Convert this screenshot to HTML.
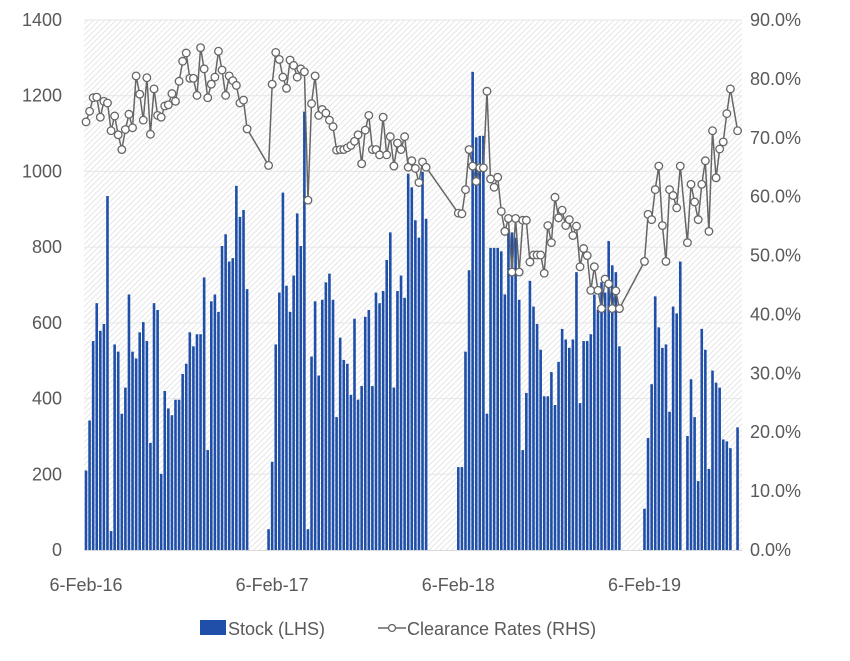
<!DOCTYPE html>
<html><head><meta charset="utf-8"><style>
body{margin:0;background:#fff;}
svg text{font-family:"Liberation Sans",sans-serif;fill:#595959;}
</style></head><body>
<svg id="chart" width="850" height="656" viewBox="0 0 850 656" xmlns="http://www.w3.org/2000/svg">
<defs>
<pattern id="hatch" patternUnits="userSpaceOnUse" width="4" height="4" patternTransform="rotate(45)">
<rect width="4" height="4" fill="#ffffff"/><line x1="0" y1="0" x2="0" y2="4" stroke="#d9d9d9" stroke-width="1.3"/>
</pattern>
</defs>
<rect x="84" y="20" width="658" height="530" fill="url(#hatch)"/>
<g id="grid"></g>
<g id="bars"></g>
<g id="line"></g>
<g id="axes"></g>
<g>
<rect x="200" y="620" width="26" height="15" fill="#1f4fa8"/>
<text x="228" y="635" font-size="18">Stock (LHS)</text>
<line x="380" x1="378" y1="628" x2="406" y2="628" stroke="#666" stroke-width="1.5"/>
<circle cx="392" cy="628" r="3.5" fill="#fff" stroke="#666" stroke-width="1.3"/>
<text x="407" y="635" font-size="18">Clearance Rates (RHS)</text>
</g>
</svg>
<script>
const stock = [210,342,552,652,579,597,935,50,543,524,360,429,675,524,506,575,602,552,283,652,634,201,420,374,356,397,397,465,492,575,538,570,570,720,264,657,675,629,803,834,762,771,962,880,898,689,
null,null,null,null,null,
55,233,543,680,944,698,629,725,889,803,1158,55,511,657,461,661,707,730,661,351,561,502,492,410,611,397,433,616,634,433,680,652,684,766,839,429,684,725,666,994,958,871,825,999,875,
null,null,null,null,null,null,null,null,
219,219,524,739,1263,1090,1094,1094,360,798,798,798,789,675,844,839,825,661,264,415,711,643,597,529,406,406,470,383,497,584,556,534,556,734,388,552,552,570,675,634,707,680,816,752,734,538,
null,null,null,null,null,null,
109,296,438,670,588,534,543,365,643,625,762,null,301,451,351,182,584,529,214,474,442,429,292,287,269,null,324];
const clearance = [72.7,74.5,76.8,76.9,73.5,76.2,75.9,71.2,73.7,70.5,68.0,71.4,74.0,71.7,80.5,77.4,73.0,80.2,70.6,78.3,73.8,73.5,75.4,75.6,77.5,76.2,79.6,83.0,84.4,80.1,80.1,77.2,85.3,81.7,76.8,79.1,80.3,84.7,81.5,77.2,80.5,79.7,78.9,75.9,76.4,71.5,
null,null,null,null,null,
65.3,79.1,84.5,83.3,80.3,78.4,83.2,82.3,80.3,81.7,81.2,59.4,75.8,80.5,73.8,74.8,74.2,73.0,71.9,67.9,68.0,68.0,68.3,68.7,69.4,70.5,65.6,71.3,73.8,68.0,68.0,67.1,73.5,67.1,70.2,65.2,69.1,68.0,70.2,65.0,66.1,64.8,62.4,65.9,65.0,
null,null,null,null,null,null,null,null,
57.2,57.1,61.2,68.0,65.2,62.6,64.9,64.9,77.9,63.0,61.6,63.3,57.5,54.1,56.3,47.2,56.3,47.2,56.0,56.0,48.9,50.1,50.1,50.1,47.0,55.1,52.2,59.9,56.4,57.7,55.1,56.1,53.4,55.0,48.1,51.2,50.0,44.1,48.1,44.1,41.0,46.0,45.2,41.0,44.0,41.0,
null,null,null,null,null,null,
49.0,57.0,56.1,61.2,65.2,55.1,49.0,61.2,60.2,58.1,65.2,null,52.2,62.1,59.1,56.1,62.1,66.1,54.1,71.2,63.2,68.1,69.3,74.1,78.3,null,71.2];
const leftTicks = [0,200,400,600,800,1000,1200,1400];
const rightTicks = [0,10,20,30,40,50,60,70,80,90];
const xLabels = ["6-Feb-16","6-Feb-17","6-Feb-18","6-Feb-19"];
const xLabelWeeks = [0,52,104,156];

const NS="http://www.w3.org/2000/svg";
const X0=86, STEP=3.58, YB=550, YT=20;
const xs=i=>X0+STEP*i;
const yL=v=>YB-(v/1400)*(YB-YT);
const yR=v=>YB-(v/90)*(YB-YT);
function mk(tag,attrs,parent){const e=document.createElementNS(NS,tag);for(const k in attrs)e.setAttribute(k,attrs[k]);parent.appendChild(e);return e;}
const grid=document.getElementById('grid'),bars=document.getElementById('bars'),line=document.getElementById('line'),axes=document.getElementById('axes');
leftTicks.forEach(t=>{
  if(t>0){const g=mk('line',{x1:84,x2:742,y1:yL(t),y2:yL(t),stroke:'#e6e6e6','stroke-width':1},grid);
  
  }
  const tx=mk('text',{x:62,y:yL(t)+6,'text-anchor':'end','font-size':18},axes);tx.textContent=t;
  
  
});
rightTicks.forEach(t=>{
  const tx=mk('text',{x:750,y:yR(t)+6,'font-size':18},axes);tx.textContent=t.toFixed(1)+'%';
  
  
});
xLabels.forEach((l,k)=>{
  const tx=mk('text',{x:xs(xLabelWeeks[k]),y:591,'text-anchor':'middle','font-size':18},axes);tx.textContent=l;
  
  
});
stock.forEach((v,i)=>{
  if(v==null)return;
  const r=mk('rect',{x:xs(i)-1.3,y:yL(v),width:2.6,height:YB-yL(v),fill:'#1f4fa8'},bars);
  
  
});
let d='';clearance.forEach((v,i)=>{if(v==null)return;d+=(d?'L':'M')+xs(i).toFixed(1)+','+yR(v).toFixed(1);});
const p=mk('path',{d:d,fill:'none',stroke:'#666','stroke-width':1.5},line);


clearance.forEach((v,i)=>{
  if(v==null)return;
  const c=mk('circle',{cx:xs(i),cy:yR(v),r:3.8,fill:'#fff',stroke:'#666','stroke-width':1.3},line);
  
  
});
const ax=mk('line',{x1:84,x2:742,y1:550.5,y2:550.5,stroke:'#d9d9d9','stroke-width':1},axes);


</script>
</body></html>
